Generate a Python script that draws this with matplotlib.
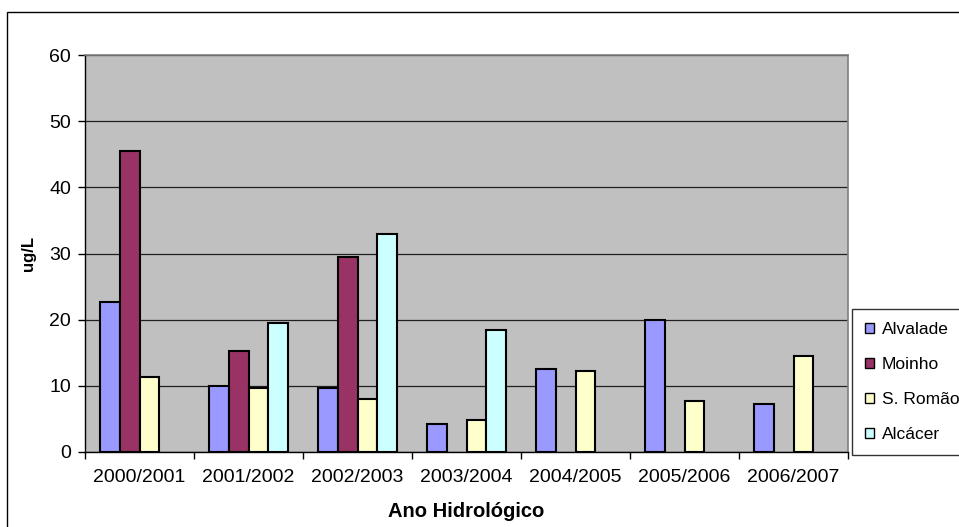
import matplotlib
matplotlib.use('Agg')
import matplotlib.pyplot as plt
from matplotlib.patches import Rectangle
import numpy as np

plt.rcParams['font.family'] = ['Liberation Sans', 'DejaVu Sans']

anos = ['2000/2001', '2001/2002', '2002/2003', '2003/2004',
        '2004/2005', '2005/2006', '2006/2007']

alvalade = [22.7, 10.0, 9.6, 4.2, 12.5, 19.9, 7.2]
moinho = [45.5, 15.3, 29.5, None, None, None, None]
sromao = [11.3, 9.6, 8.0, 4.8, 12.2, 7.7, 14.5]
alcacer = [None, 19.5, 32.9, 18.5, None, None, None]

series = [('Alvalade', alvalade, '#9999FF'),
          ('Moinho', moinho, '#993366'),
          ('S. Romão', sromao, '#FFFFCC'),
          ('Alcácer', alcacer, '#CCFFFF')]

W, H = 959, 527
fig = plt.figure(figsize=(W / 100, H / 100), dpi=100)
ax = fig.add_axes([85 / W, 1 - 452 / H, (848 - 85) / W, (452 - 55) / H])
ax.set_facecolor('#C0C0C0')

# 4 slots per year, gap width 150% of a bar (excel style)
w = 1 / 5.5
x = np.arange(len(anos))
for k, (nome, vals, cor) in enumerate(series):
    xs = [x[i] + (k - 1.5) * w for i in range(len(vals)) if vals[i] is not None]
    ys = [v for v in vals if v is not None]
    ax.bar(xs, ys, width=w, color=cor, edgecolor='black', linewidth=1.5,
           label=nome, zorder=3)

ax.set_xlim(-0.5, len(anos) - 0.5)
ax.set_ylim(0, 60)
ax.set_yticks(range(0, 61, 10))
ax.yaxis.grid(True, color='#202020', linewidth=0.9, zorder=1)
ax.set_axisbelow(True)

ax.set_xticks(x)
ax.set_xticklabels(anos)
ax.set_xticks(np.arange(-0.5, len(anos)), minor=True)
ax.tick_params(axis='x', which='major', length=0, pad=12, labelsize=14)
ax.tick_params(axis='x', which='minor', length=5, width=1, direction='out')
ax.tick_params(axis='y', length=5, width=1, pad=5, labelsize=14)

for s in ['left', 'bottom']:
    ax.spines[s].set_color('black')
    ax.spines[s].set_linewidth(1)
for s in ['top', 'right']:
    ax.spines[s].set_color('#808080')
    ax.spines[s].set_linewidth(1.2)

ax.set_xlabel('Ano Hidrológico', fontsize=14.5, fontweight='bold')
ax.xaxis.set_label_coords(0.5, -0.125)
ax.set_ylabel('ug/L', fontsize=12, fontweight='bold')
ax.yaxis.set_label_coords(-0.064, 0.5)

leg = ax.legend(loc='upper left', bbox_to_anchor=(852 / W, 1 - 309 / H),
                bbox_transform=fig.transFigure, borderaxespad=0,
                fancybox=False, shadow=False, fontsize=12.5,
                handlelength=0.5, handleheight=0.5, handletextpad=0.45,
                labelspacing=1.15, borderpad=0.75)
leg.get_frame().set_edgecolor('black')
leg.get_frame().set_linewidth(1)
for h in leg.legend_handles:
    h.set_linewidth(1)

# chart area border
fig.patches.append(Rectangle((7 / W, -0.1), 1, 1 - 12 / H + 0.1,
                             transform=fig.transFigure, fill=False,
                             edgecolor='black', linewidth=1))

fig.savefig('out.png', dpi=100)
